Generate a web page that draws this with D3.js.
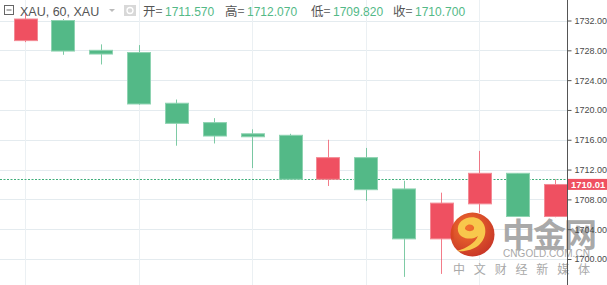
<!DOCTYPE html>
<html>
<head>
    <script src="https://d3js.org/d3.v7.min.js"></script>
    <style>
        body { margin: 0; background: #fff; }
        svg { display: block; font-family: 'Liberation Sans', Arial, sans-serif; }
        .tick-label { font-size: 9px; fill: #4a4a4a; }
        .hdr { font-size: 12.5px; fill: #555; }
        .hdr-val { font-size: 12px; fill: #53b987; }
    </style>
</head>
<body>
<svg id="chart" width="607" height="285"></svg>
<script>
    // hourly XAU candles
    const opens  = [1729.3, 1732.0, 1728.0, 1727.7, 1720.9, 1718.3, 1716.8, 1716.6, 1710.7, 1713.6, 1709.4, 1702.7, 1707.4, 1711.5, 1705.7];
    const highs  = [1733.0, 1732.2, 1728.8, 1728.7, 1721.4, 1718.9, 1717.4, 1716.8, 1716.0, 1714.9, 1710.5, 1708.9, 1714.5, 1711.5, 1710.7];
    const lows   = [1729.1, 1727.4, 1726.1, 1720.7, 1715.2, 1715.5, 1712.2, 1710.7, 1709.8, 1707.8, 1697.6, 1698.0, 1706.2, 1705.7, 1705.6];
    const closes = [1732.2, 1727.9, 1727.5, 1720.8, 1718.2, 1716.5, 1716.4, 1710.7, 1713.6, 1709.3, 1702.7, 1707.5, 1711.5, 1705.7, 1710.0];
    const yTicks = [1700, 1704, 1708, 1712, 1716, 1720, 1724, 1728, 1732];
    const lastPrice = 1710.01;
    const refLine = 1710.70;
    const header = [["开", "1711.570"], ["高", "1712.070"], ["低", "1709.820"], ["收", "1710.700"]];

    const up = "#ef5061", down = "#53b987";
    const width = 607, height = 285, axisX = 567;

    const candles = opens.map((o, i) => ({ i, o, h: highs[i], l: lows[i], c: closes[i] }));

    const x = d3.scaleLinear().domain([0, candles.length - 1]).range([25, 555]);
    const y = d3.scaleLinear().domain([1700, 1732]).range([259, 20.5]);
    const bodyW = 23;

    const svg = d3.select("#chart");

    // grid
    svg.append("g").selectAll("line").data(yTicks).enter().append("line")
        .attr("x1", 0).attr("x2", axisX)
        .attr("y1", d => Math.round(y(d)) + 0.5).attr("y2", d => Math.round(y(d)) + 0.5)
        .attr("stroke", "#e4ebef").attr("stroke-width", 1);
    svg.append("g").selectAll("line").data(candles.filter(d => d.i % 3 === 0)).enter().append("line")
        .attr("x1", d => Math.round(x(d.i)) + 0.5).attr("x2", d => Math.round(x(d.i)) + 0.5)
        .attr("y1", 0).attr("y2", height)
        .attr("stroke", "#ebf0f3").attr("stroke-width", 1);

    // dotted price line
    svg.append("line")
        .attr("x1", 0).attr("x2", axisX)
        .attr("y1", Math.round(y(refLine)) + 0.5).attr("y2", Math.round(y(refLine)) + 0.5)
        .attr("stroke", "#3fae7a").attr("stroke-dasharray", "2,1.5").attr("stroke-width", 1);

    // candles
    const g = svg.append("g");
    g.selectAll(".wick").data(candles).enter().append("line")
        .attr("x1", d => Math.round(x(d.i)) + 0.5).attr("x2", d => Math.round(x(d.i)) + 0.5)
        .attr("y1", d => y(d.h)).attr("y2", d => y(d.l))
        .attr("stroke", d => d.c >= d.o ? up : down).attr("stroke-opacity", 0.75);
    g.selectAll(".body").data(candles).enter().append("rect")
        .attr("x", d => Math.round(x(d.i) - bodyW / 2) + 0.5)
        .attr("y", d => y(Math.max(d.o, d.c)))
        .attr("width", bodyW)
        .attr("height", d => Math.max(2, Math.abs(y(d.o) - y(d.c))))
        .attr("fill", d => d.c >= d.o ? up : down)
        .attr("stroke", d => d.c >= d.o ? "#f38a95" : "#8ed3b1")
        .attr("stroke-width", 1);

    // watermark
    const wm = svg.append("g");
    const grad = svg.append("defs").append("radialGradient").attr("id", "logo")
        .attr("cx", "40%").attr("cy", "35%").attr("r", "70%");
    grad.append("stop").attr("offset", "0%").attr("stop-color", "#f26a22");
    grad.append("stop").attr("offset", "100%").attr("stop-color", "#c42a1c");
    wm.append("circle").attr("cx", 472.5).attr("cy", 234.5).attr("r", 22).attr("fill", "url(#logo)").attr("opacity", 0.95);
    wm.append("path")
        .attr("d", "M458,231 C456,220 470,214 479,219 C488,225 487,238 479,245 C473,250 464,252 457,251 C467,248 475,243 478,236 C473,240 460,240 458,231 Z M465,229 C465,224 472,223 474,227 C475,231 469,233 465,229 Z")
        .attr("fill", "#f8c74c").attr("fill-rule", "evenodd");
    wm.append("text").attr("x", 502).attr("y", 247).attr("font-size", 33).attr("font-weight", "bold")
        .attr("font-family", "'Noto Sans CJK SC', sans-serif").attr("fill", "#a0a0a0").attr("opacity", 0.9)
        .attr("letter-spacing", -2).text("中金网");
    wm.append("text").attr("x", 503).attr("y", 257).attr("font-size", 10).attr("fill", "#a8a8a8")
        .attr("textLength", 87).text("CNGOLD.COM.CN");
    wm.append("text").attr("x", 453).attr("y", 274).attr("font-size", 12)
        .attr("font-family", "'Noto Sans CJK SC', sans-serif").attr("fill", "#a8a8a8")
        .attr("textLength", 137).text("中文财经新媒体");

    // right axis
    svg.append("line").attr("x1", axisX + 0.5).attr("x2", axisX + 0.5).attr("y1", 0).attr("y2", height)
        .attr("stroke", "#555");
    const ax = svg.append("g").attr("transform", `translate(${axisX + 0.5},0)`)
        .call(d3.axisRight(y).tickValues(yTicks).tickFormat(d3.format(".2f")).tickSize(4).tickPadding(3));
    ax.select(".domain").remove();
    ax.selectAll(".tick line").attr("stroke", "#555");
    ax.selectAll(".tick text").attr("class", "tick-label").attr("fill", "#4a4a4a").attr("font-family", null).attr("font-size", null);

    // last price label
    svg.append("rect").attr("x", axisX + 1).attr("y", y(lastPrice) - 5.5).attr("width", width - axisX).attr("height", 11)
        .attr("fill", up);
    svg.append("text").attr("x", axisX + 4).attr("y", y(lastPrice) + 3.5)
        .attr("font-size", 9.5).attr("font-weight", "bold").attr("fill", "#fff").text(d3.format(".2f")(lastPrice));

    // header
    const hd = svg.append("g");
    hd.append("rect").attr("x", 4.5).attr("y", 5.5).attr("width", 9).attr("height", 9).attr("fill", "none").attr("stroke", "#666");
    hd.append("line").attr("x1", 6.5).attr("x2", 11.5).attr("y1", 10).attr("y2", 10).attr("stroke", "#666");
    hd.append("text").attr("class", "hdr").attr("x", 20).attr("y", 16).text("XAU, 60, XAU");
    hd.append("path").attr("d", "M109,9 L115,9 L112,12 Z").attr("fill", "#bbb");
    hd.append("rect").attr("x", 124).attr("y", 5).attr("width", 12).attr("height", 11).attr("fill", "#d8d8d8");
    hd.append("circle").attr("cx", 130).attr("cy", 10.5).attr("r", 3).attr("fill", "none").attr("stroke", "#fff").attr("stroke-width", 1.3);
    const hx = [143, 225, 311, 393];
    header.forEach((h, k) => {
        hd.append("text").attr("class", "hdr").attr("x", hx[k]).attr("y", 16)
            .attr("font-family", "'Noto Sans CJK SC', sans-serif").attr("font-size", 12).text(h[0] + "=");
        hd.append("text").attr("class", "hdr-val").attr("x", hx[k] + 22).attr("y", 16).text(h[1]);
    });
</script>
</body>
</html>
